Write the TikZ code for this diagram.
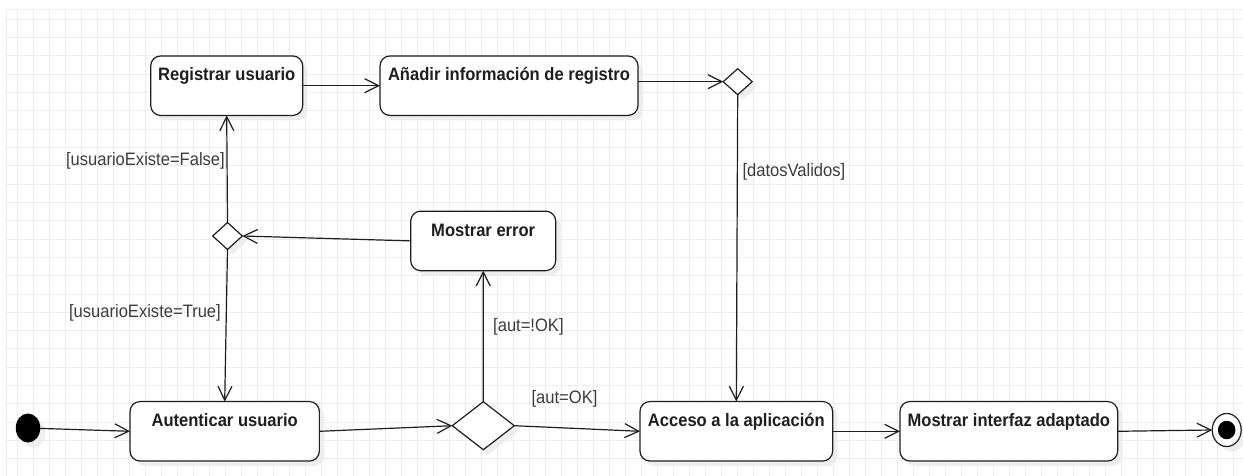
\documentclass[tikz,border=0pt]{standalone}
\usepackage{fontspec}
\setmainfont{Liberation Sans}[FakeStretch=0.92]
\usepackage{tikz}
\usetikzlibrary{calc,arrows.meta,shapes.geometric,shadows}
\definecolor{gridgray}{HTML}{EDEDED}
\definecolor{ink}{HTML}{1E1E1E}
\definecolor{guardgray}{HTML}{3C3C3C}
\tikzset{
  gridline/.style={draw=gridgray, line width=0.9pt},
  softshadow/.style={drop shadow={shadow xshift=5pt, shadow yshift=-5pt, fill=black!8, opacity=0.85}},
  act/.style={draw=ink, line width=1.2pt, rounded corners=10pt, fill=white, minimum height=59.5, inner sep=0pt, outer sep=0pt, softshadow},
  acttxt/.style={anchor=base, yshift=-25pt, inner sep=0pt, text=ink, font=\fontsize{18}{21}\selectfont\bfseries},
  choice/.style={diamond, draw=ink, line width=1.2pt, fill=white, inner sep=0pt, outer sep=0pt, softshadow},
  startnode/.style={ellipse, fill=black, inner sep=0pt, outer sep=0pt, minimum width=24.5, minimum height=29, softshadow},
  endnode/.style={ellipse, draw=ink, line width=1.2pt, fill=white, inner sep=0pt, outer sep=0pt, minimum width=29, minimum height=33, softshadow},
  guard/.style={inner sep=0pt, text=guardgray, font=\fontsize{18}{21}\selectfont},
  flow/.style={draw=ink, line width=1.2pt, -{Straight Barb[length=14pt,width=14pt]}},
}
\begin{document}
\begin{tikzpicture}[x=1pt,y=-1pt]
  \useasboundingbox (0,0) rectangle (1243,476);
  \draw[gridline] (6,9) -- (6,476);
  \draw[gridline] (6,9) -- (1243,9);
  \foreach \i in {0,...,76} \draw[gridline] (17.3+16*\i,9) -- (17.3+16*\i,476);
  \foreach \i in {0,...,24} \draw[gridline] (6,19+18.33*\i) -- (1243,19+18.33*\i);

  \node (init) at (28,428)[startnode]{};
  \node (aut) at (224.7,431.3)[act, minimum width=189.3, label={[acttxt]north:Autenticar usuario}]{};
  \node (dec) at (483.3,425.7)[choice, minimum width=62, minimum height=48]{};
  \node (err) at (483.2,240.9)[act, minimum width=145, label={[acttxt]north:Mostrar error}]{};
  \node (dg) at (227.5,236)[choice, minimum width=29.6, minimum height=27]{};
  \node (reg) at (226.7,85.7)[act, minimum width=152, label={[acttxt]north:Registrar usuario}]{};
  \node (add) at (509,85.7)[act, minimum width=258, label={[acttxt]north:Añadir información de registro}]{};
  \node (dt) at (737.7,81.7)[choice, minimum width=29, minimum height=26]{};
  \node (acc) at (736.3,431.3)[act, minimum width=192.7, label={[acttxt]north:Acceso a la aplicación}]{};
  \node (ui) at (1008.8,431.3)[act, minimum width=217.7, label={[acttxt]north:Mostrar interfaz adaptado}]{};
  \node (fin) at (1226.7,430)[endnode]{};
  \node (fincore) at (fin)[ellipse, fill=black, inner sep=0pt, minimum width=17.5, minimum height=18.5]{};

  \draw[flow] (init) -- (aut.west);
  \draw[flow] (aut.east) -- (dec.west);
  \draw[flow] (dec.east) -- (acc.west);
  \draw[flow] (dec.north) -- (err.south);
  \draw[flow] (err.west) -- (dg.east);
  \draw[flow] (dg.north) -- (reg.south);
  \draw[flow] (dg.south) -- (aut.north);
  \draw[flow] (reg.east) -- (add.west);
  \draw[flow] (add.east |- dt.west) -- (dt.west);
  \draw[flow] (dt.south) -- (acc.north);
  \draw[flow] (acc.east) -- (ui.west);
  \draw[flow] (ui.east) -- (fin.west);

  \node (gfalse) at (225,160.7)[guard, anchor=east]{[usuarioExiste=False]};
  \node (gtrue) at (221,313)[guard, anchor=east]{[usuarioExiste=True]};
  \node (gnok) at (493,327.3)[guard, anchor=west]{[aut=!OK]};
  \node (gok) at (564.5,399)[guard]{[aut=OK]};
  \node (gvalid) at (742.3,172.3)[guard, anchor=west]{[datosValidos]};
\end{tikzpicture}
\end{document}
